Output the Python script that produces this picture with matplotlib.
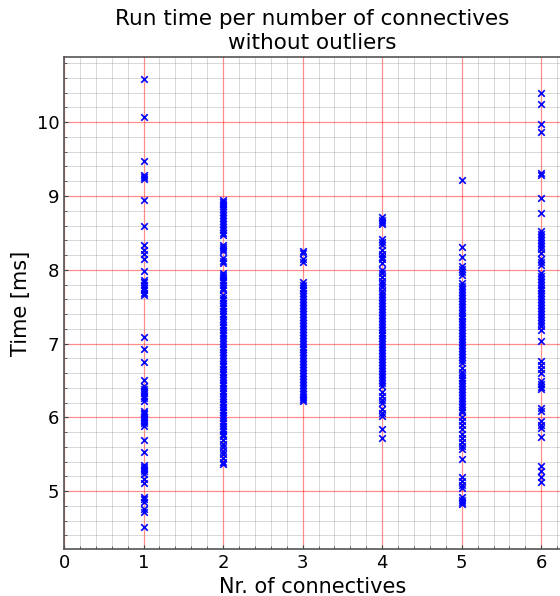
import matplotlib
matplotlib.use("Agg")
import matplotlib.pyplot as plt
from matplotlib.ticker import MultipleLocator

# Run times (ms) grouped by the number of connectives
times_1 = [10.58, 10.07, 9.48, 9.29, 9.26, 9.23, 8.94, 8.60, 8.34, 8.27, 8.22, 8.14,
           7.99, 7.86, 7.83, 7.79, 7.76, 7.72, 7.69, 7.66, 7.09, 6.93, 6.75, 6.50,
           6.42, 6.39, 6.36, 6.33, 6.29, 6.26, 6.22, 6.08, 6.06, 6.04, 6.01, 5.98,
           5.95, 5.92, 5.89, 5.70, 5.53, 5.36, 5.33, 5.30, 5.27, 5.23, 5.16, 5.11,
           4.92, 4.89, 4.86, 4.76, 4.72, 4.52]

times_2 = [8.95, 8.92, 8.89, 8.86, 8.82, 8.78, 8.74, 8.70, 8.66, 8.62, 8.58, 8.54,
           8.50, 8.47, 8.34, 8.31, 8.28, 8.25, 8.16, 8.12, 8.09, 7.96, 7.93, 7.90,
           7.86, 7.83, 7.80, 7.76, 7.73, 7.66, 7.62, 7.59, 7.55, 7.51, 7.48, 7.44,
           7.40, 7.37, 7.33, 7.29, 7.25, 7.22, 7.18, 7.14, 7.11, 7.07, 7.03, 6.99,
           6.96, 6.92, 6.88, 6.85, 6.81, 6.77, 6.73, 6.70, 6.66, 6.62, 6.59, 6.55,
           6.51, 6.47, 6.44, 6.40, 6.36, 6.33, 6.29, 6.25, 6.21, 6.18, 6.14, 6.10,
           6.07, 6.03, 5.99, 5.95, 5.92, 5.88, 5.84, 5.81, 5.77, 5.75, 5.70, 5.64,
           5.60, 5.55, 5.50, 5.45, 5.40, 5.37]

times_3 = [8.26, 8.23, 8.14, 8.11, 7.84, 7.80, 7.76, 7.72, 7.68, 7.64, 7.60, 7.56,
           7.52, 7.48, 7.44, 7.40, 7.36, 7.32, 7.28, 7.24, 7.20, 7.16, 7.12, 7.08,
           7.04, 7.00, 6.96, 6.92, 6.88, 6.84, 6.80, 6.76, 6.72, 6.68, 6.64, 6.60,
           6.56, 6.52, 6.48, 6.44, 6.40, 6.36, 6.32, 6.28, 6.25, 6.22]

times_4 = [8.72, 8.68, 8.65, 8.62, 8.42, 8.38, 8.34, 8.27, 8.22, 8.18, 8.14, 8.09,
           8.00, 7.95, 7.90, 7.85, 7.81, 7.77, 7.71, 7.67, 7.63, 7.59, 7.55, 7.51,
           7.47, 7.43, 7.39, 7.35, 7.31, 7.27, 7.23, 7.19, 7.15, 7.11, 7.07, 7.03,
           6.99, 6.95, 6.91, 6.87, 6.83, 6.79, 6.75, 6.71, 6.67, 6.63, 6.59, 6.55,
           6.51, 6.47, 6.42, 6.34, 6.29, 6.24, 6.19, 6.11, 6.06, 6.02, 5.84, 5.72]

times_5 = [9.21, 8.31, 8.18, 8.05, 8.01, 7.97, 7.93, 7.82, 7.78, 7.74, 7.70, 7.66,
           7.62, 7.58, 7.54, 7.50, 7.46, 7.42, 7.38, 7.34, 7.30, 7.26, 7.22, 7.18,
           7.14, 7.10, 7.06, 7.02, 6.98, 6.94, 6.90, 6.86, 6.82, 6.78, 6.74, 6.67,
           6.62, 6.58, 6.54, 6.50, 6.46, 6.42, 6.38, 6.34, 6.30, 6.26, 6.22, 6.18,
           6.14, 6.10, 6.07, 6.00, 5.95, 5.90, 5.84, 5.78, 5.72, 5.66, 5.61, 5.57,
           5.43, 5.19, 5.14, 5.09, 5.05, 4.92, 4.88, 4.85, 4.82]

times_6 = [10.39, 10.24, 9.98, 9.87, 9.31, 9.28, 8.97, 8.77, 8.52, 8.48, 8.44, 8.40,
           8.36, 8.32, 8.28, 8.23, 8.14, 8.10, 8.07, 7.96, 7.92, 7.88, 7.84, 7.80,
           7.76, 7.72, 7.68, 7.64, 7.60, 7.56, 7.52, 7.48, 7.44, 7.40, 7.36, 7.32,
           7.28, 7.24, 7.19, 7.04, 6.76, 6.71, 6.66, 6.60, 6.49, 6.45, 6.41, 6.38,
           6.13, 6.09, 5.95, 5.90, 5.86, 5.74, 5.34, 5.27, 5.19, 5.12]

connectives = [1, 2, 3, 4, 5, 6]
groups = [times_1, times_2, times_3, times_4, times_5, times_6]

fig = plt.figure(figsize=(5.6, 5.96), dpi=100)
ax = fig.add_axes([64 / 560, 47 / 596, 1.0 - 64 / 560 + 0.002, 492 / 596])

xs, ys = [], []
for n, vals in zip(connectives, groups):
    xs.extend([n] * len(vals))
    ys.extend(vals)

ax.scatter(xs, ys, marker="x", color="blue", s=22, linewidths=1.2, zorder=3)

ax.set_xlim(left=0)
ax.xaxis.set_major_locator(MultipleLocator(1))
ax.xaxis.set_minor_locator(MultipleLocator(0.2))
ax.yaxis.set_major_locator(MultipleLocator(1))
ax.yaxis.set_minor_locator(MultipleLocator(0.2))

ax.grid(which="major", color="red", alpha=0.45, linewidth=0.9, zorder=1)
ax.grid(which="minor", color="gray", alpha=0.35, linewidth=0.6, zorder=1)
ax.set_axisbelow(True)

ax.tick_params(which="both", direction="in", labelsize=13, colors="#444444",
               labelcolor="black")
ax.tick_params(which="major", length=3)
ax.tick_params(which="minor", length=2)
for sp in ax.spines.values():
    sp.set_color("#555555")
    sp.set_linewidth(1.2)

ax.set_xlabel("Nr. of connectives", fontsize=15)
ax.set_ylabel("Time [ms]", fontsize=15)
ax.set_title("Run time per number of connectives\nwithout outliers", fontsize=15.5,
             linespacing=1.2, pad=6)

fig.savefig("out.png", dpi=100)
